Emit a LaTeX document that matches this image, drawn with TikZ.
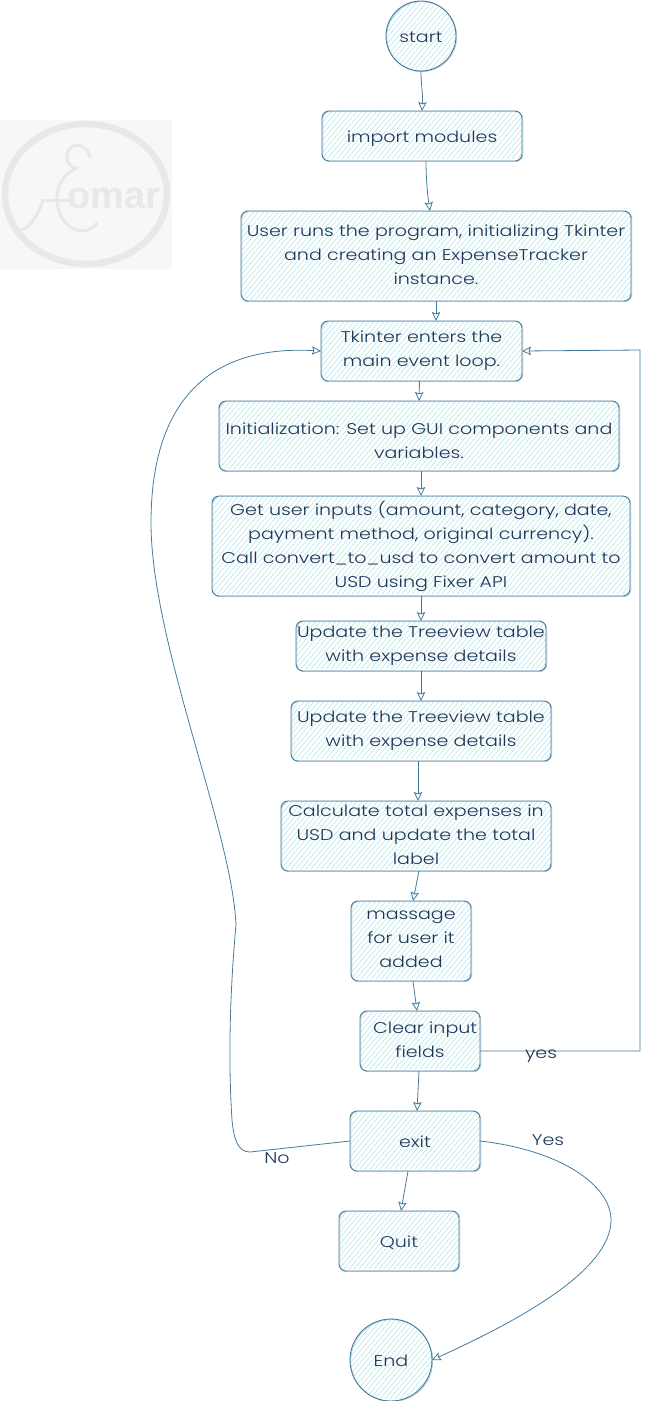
\documentclass[tikz,border=0pt]{standalone}
\usepackage{fontspec}
\setmainfont[FakeStretch=1.23]{Poppins Light}
\newfontfamily\logofont{Liberation Sans}
\usetikzlibrary{arrows.meta,calc}
\definecolor{strokec}{HTML}{457B9D}
\definecolor{textc}{HTML}{1D3557}
\definecolor{hachc}{HTML}{B0E3E6}
\definecolor{logoa}{HTML}{F6F7F6}
\definecolor{logob}{HTML}{E7E8E7}
\newcommand{\tfix}{\rule{0pt}{17pt}}
\newcommand{\bfix}{\rule[-3.5pt]{0pt}{3.5pt}}
\tikzset{
  x=1pt,y=-1pt,
  hachured/.style={
    path picture={
      \foreach \d in {-120,-115,...,440}
        \draw[hachc,line width=0.5pt]
          ($(path picture bounding box.south west)+(\d pt,2pt)$) -- ++(100pt,120pt);
    }},
  sketch/.style={
    preaction={draw=strokec!60,line width=0.4pt,transform canvas={shift={(0.8pt,-0.7pt)}}}},
  flowbox/.style={rectangle,rounded corners=7pt,draw=strokec,line width=0.9pt,
    hachured,sketch,inner sep=0pt,outer sep=0pt,
    execute at begin node=\tfix,execute at end node=\bfix,
    text=textc,font=\fontsize{15.5}{24}\selectfont,align=center},
  flowcirc/.style={circle,draw=strokec,line width=0.9pt,hachured,sketch,
    inner sep=0pt,outer sep=0pt,
    execute at begin node=\tfix,execute at end node=\bfix,
    text=textc,font=\fontsize{15.5}{24}\selectfont},
  link/.style={draw=strokec,line width=0.8pt,
    -{Stealth[open,length=9pt,width=8.5pt,inset=1.5pt]}},
  edgetext/.style={inner sep=0pt,text=textc,font=\fontsize{15.5}{18}\selectfont},
}
\begin{document}
\begin{tikzpicture}
\useasboundingbox (0,0) rectangle (649,1401);
% logo
\fill[logoa] (0,120) rectangle (172,269);
\draw[logob,line width=6.5pt] (86,194) ellipse [x radius=81,y radius=70];
\draw[logob,line width=3pt,line cap=round]
  (90,157) .. controls (86,140) and (67,142) .. (67,157)
  .. controls (67,165) and (72,167) .. (76,168)
  .. controls (62,175) and (57,187) .. (57,199)
  .. controls (57,218) and (70,231) .. (82,231)
  .. controls (88,231) and (94,228) .. (97,223);
\draw[logob,line width=3pt,line cap=round] (43,200) -- (73,200);
\draw[logob,line width=3pt,line cap=round] (43,200) .. controls (38,216) and (30,228) .. (20,230);
\node[inner sep=0pt,text=logob,font=\logofont\bfseries\fontsize{38}{38}\selectfont] (logotext) at (114,198) {omar};
% nodes
\node[flowcirc,minimum size=70pt] (start) at (421,36) {start};
\node[flowbox,minimum width=200pt,minimum height=50pt] (import) at (422,136) {import modules};
\node[flowbox,minimum width=390pt,minimum height=90pt] (user) at (436,256) {User runs the program, initializing Tkinter\\and creating an ExpenseTracker\\instance.};
\node[flowbox,minimum width=201pt,minimum height=60pt] (loop) at (421.5,351) {Tkinter enters the\\main event loop.};
\node[flowbox,minimum width=400pt,minimum height=70pt] (init) at (419,436) {\mbox{}\\Initialization: Set up GUI components and\\variables.};
\node[flowbox,minimum width=418pt,minimum height=100pt] (inputs) at (421,546) {Get user inputs (amount, category, date,\\payment method, original currency).\\Call convert\_to\_usd to convert amount to\\USD using Fixer API};
\node[flowbox,minimum width=250pt,minimum height=50pt] (tablea) at (421,646) {Update the Treeview table\\with expense details};
\node[flowbox,minimum width=260pt,minimum height=60pt] (tableb) at (421,731) {Update the Treeview table\\with expense details};
\node[flowbox,minimum width=270pt,minimum height=70pt] (total) at (416,836) {Calculate total expenses in\\USD and update the total\\label};
\node[flowbox,minimum width=120pt,minimum height=80pt] (msg) at (411,941) {massage\\for user it\\added};
\node[flowbox,minimum width=120pt,minimum height=60pt] (clear) at (420,1041) {\ \ Clear input\\fields};
\node[flowbox,minimum width=130pt,minimum height=60pt] (exit) at (415,1141) {exit};
\node[flowbox,minimum width=120pt,minimum height=60pt] (quit) at (399,1241) {Quit};
\node[flowcirc,minimum size=82pt] (end) at (391,1360) {End};
% connectors
\draw[link] (start.south) .. controls +(0,14) and +(1,-18) .. (import.north);
\draw[link] ([xshift=4pt]import.south) .. controls +(0,14) and +(-3,-20) .. ([xshift=8pt]import.south |- user.north);
\draw[link] (user.south) -- (user.south |- loop.north);
\draw[link] ([xshift=-2pt]loop.south) -- (init.north);
\draw[link] ([xshift=2pt]init.south) -- (inputs.north);
\draw[link] (inputs.south) -- (tablea.north);
\draw[link] (tablea.south) -- (tableb.north);
\draw[link] ([xshift=-3pt]tableb.south) -- ([xshift=2pt]total.north);
\draw[link] ([xshift=3pt]total.south) -- ([xshift=2pt]msg.north);
\draw[link] ([xshift=2pt]msg.south) -- ([xshift=-3pt]clear.north);
\draw[link] ([xshift=-1pt]clear.south) -- ([xshift=2pt]exit.north);
\draw[link] ([xshift=-7pt]exit.south) -- ([xshift=2pt]quit.north);
% loop back
\draw[link] (exit.west) -- (250,1152) .. controls (238,1152) and (234,1140) .. (232,1120)
  .. controls (228,1060) and (230,990) .. (236,925)
  .. controls (232,830) and (150,640) .. (151,520)
  .. controls (152,400) and (210,345) .. (loop.west);
\draw[link] ([yshift=-10pt]clear.east) -- (640,1051) -- (640,350) -- (loop.east);
\draw[link] (exit.east) .. controls (560,1150) and (611,1185) .. (611,1220)
  .. controls (611,1270) and (520,1320) .. (end.east);
% labels
\node[edgetext] (lyes) at (541,1056) {yes};
\node[edgetext] (lYes) at (548,1140) {Yes};
\node[edgetext] (lno) at (277,1158) {No};
\end{tikzpicture}
\end{document}
